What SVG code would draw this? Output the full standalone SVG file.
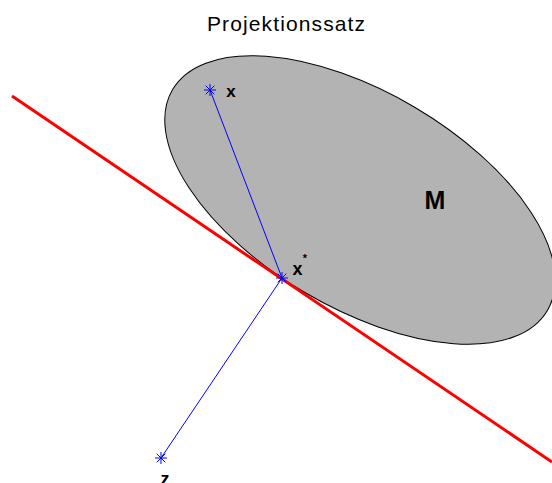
<svg xmlns="http://www.w3.org/2000/svg" width="552" height="483" viewBox="0 0 552 483">
<defs>
<style>
.lbl{font-family:"Liberation Sans",Arial,sans-serif;font-weight:bold;fill:#000}
.title{font-family:"Liberation Sans",Arial,sans-serif;fill:#000}
.blue{stroke:#0000ff;stroke-width:1;fill:none}
</style>
<g id="star">
<path d="M-6,0H6M0,-6V6M-4.3,-4.3L4.3,4.3M-4.3,4.3L4.3,-4.3" stroke="#0000ff" stroke-width="1"/>
</g>
</defs>
<rect width="552" height="483" fill="#fff"/>
<text class="title" x="286" y="31" font-size="21" text-anchor="middle" textLength="158">Projektionssatz</text>
<g id="M">
<ellipse cx="360" cy="200" rx="217.5" ry="107.7" transform="rotate(30.5 360 200)" fill="#b3b3b3" stroke="#000" stroke-width="1"/>
<text class="lbl" x="435" y="209" font-size="25" text-anchor="middle">M</text>
</g>
<g id="line">
<line x1="12" y1="96" x2="552" y2="462" stroke="#ff0000" stroke-width="3"/>
</g>
<g id="connectors">
<polyline class="blue" points="210,90 282,278 161,458"/>
</g>
<g id="x">
<use href="#star" x="210" y="90"/>
<text class="lbl" x="231" y="97" font-size="17" text-anchor="middle">x</text>
</g>
<g id="xstar">
<use href="#star" x="282" y="278"/>
<text class="lbl" x="297.5" y="275" font-size="18" text-anchor="middle">x</text>
<text class="lbl" x="305" y="262" font-size="11" text-anchor="middle">*</text>
</g>
<g id="z">
<use href="#star" x="161" y="458"/>
<text class="lbl" x="165" y="485" font-size="18" text-anchor="middle">z</text>
</g>
</svg>
